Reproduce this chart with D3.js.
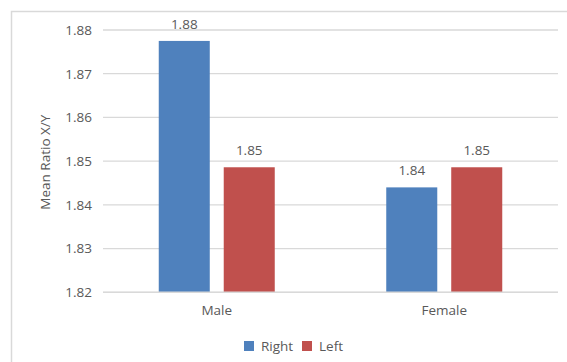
<!DOCTYPE html>
<html>
<head>
<meta charset="utf-8">
<script src="https://cdn.jsdelivr.net/npm/d3@7"></script>
<style>
  html, body { margin: 0; padding: 0; background: #fff; }
  svg { display: block; }
  text { font-family: "Open Sans", "Liberation Sans", sans-serif; fill: #595959; }
</style>
</head>
<body>
<svg id="chart" width="567" height="362"></svg>
<script>
// Mean X/Y ratio by sex and side
const categories = ["Male", "Female"];
const seriesNames = ["Right", "Left"];
const rightValues = [1.8775, 1.844];
const leftValues = [1.8486, 1.8486];
const valueLabels = [["1.88", "1.85"], ["1.84", "1.85"]];
const yTicks = [1.82, 1.83, 1.84, 1.85, 1.86, 1.87, 1.88];
const colors = ["#4F81BD", "#C0504D"];

const svg = d3.select("#chart");
const W = 567, H = 362;

// chart area border
svg.append("rect")
  .attr("x", 11.5).attr("y", 11.5)
  .attr("width", W + 10).attr("height", H + 10)
  .attr("fill", "none").attr("stroke", "#d9d9d9").attr("stroke-width", 1.5);

const plot = { left: 103, right: 558, top: 30, bottom: 292.3 };

const x0 = d3.scaleBand().domain(categories).range([plot.left, plot.right]).paddingInner(0).paddingOuter(0);
const x1 = d3.scaleBand().domain(seriesNames).range([0, 116]).paddingInner(0.215);
const y = d3.scaleLinear().domain([1.82, 1.88]).range([plot.bottom, plot.top]);

// gridlines
svg.append("g").selectAll("line").data(yTicks).join("line")
  .attr("x1", plot.left).attr("x2", plot.right)
  .attr("y1", d => y(d)).attr("y2", d => y(d))
  .attr("stroke", "#d9d9d9").attr("stroke-width", 1.3);

// y axis tick labels
const yAxis = d3.axisLeft(y).tickValues(yTicks).tickFormat(d3.format(".2f")).tickSize(0).tickPadding(11);
const gy = svg.append("g").attr("transform", `translate(${plot.left},0)`).call(yAxis);
gy.select(".domain").remove();
gy.selectAll("text").style("font-size", "13.5px").attr("fill", "#595959").attr("font-family", null);

// y axis title
svg.append("text")
  .attr("transform", `translate(50,${(plot.top + plot.bottom) / 2 + 1}) rotate(-90)`)
  .attr("text-anchor", "middle")
  .style("font-size", "13.5px")
  .text("Mean Ratio X/Y");

const rows = categories.map((c, i) => ({
  cat: c,
  vals: [rightValues[i], leftValues[i]],
  labels: valueLabels[i]
}));

const groupOffset = (x0.bandwidth() - 116) / 2;
const groups = svg.append("g").selectAll("g").data(rows).join("g")
  .attr("transform", d => `translate(${x0(d.cat) + groupOffset},0)`);

groups.selectAll("rect").data(d => d.vals.map((v, j) => ({ v, s: seriesNames[j], j }))).join("rect")
  .attr("x", d => x1(d.s))
  .attr("width", x1.bandwidth())
  .attr("y", d => y(d.v))
  .attr("height", d => y(1.82) - y(d.v))
  .attr("fill", d => colors[d.j]);

groups.selectAll("text.val").data(d => d.vals.map((v, j) => ({ v, s: seriesNames[j], lab: d.labels[j] }))).join("text")
  .attr("class", "val")
  .attr("x", d => x1(d.s) + x1.bandwidth() / 2)
  .attr("y", d => y(d.v) - 12)
  .attr("text-anchor", "middle")
  .style("font-size", "13.5px")
  .text(d => d.lab);

// x axis baseline
svg.append("line")
  .attr("x1", plot.left).attr("x2", plot.right)
  .attr("y1", plot.bottom).attr("y2", plot.bottom)
  .attr("stroke", "#d9d9d9").attr("stroke-width", 1.5);

// category labels
const xAxis = d3.axisBottom(x0).tickSize(0).tickPadding(13);
const gx = svg.append("g").attr("transform", `translate(0,${plot.bottom})`).call(xAxis);
gx.select(".domain").remove();
gx.selectAll("text").style("font-size", "13.5px").attr("fill", "#595959").attr("font-family", null);

// legend
const legend = svg.append("g").attr("transform", "translate(244,341)");
const items = [{ name: "Right", x: 0 }, { name: "Left", x: 58 }];
items.forEach((it, i) => {
  legend.append("rect").attr("x", it.x).attr("y", 0).attr("width", 10).attr("height", 10).attr("fill", colors[i]);
  legend.append("text").attr("x", it.x + 17).attr("y", 9.5).style("font-size", "13.5px").text(it.name);
});
</script>
</body>
</html>
